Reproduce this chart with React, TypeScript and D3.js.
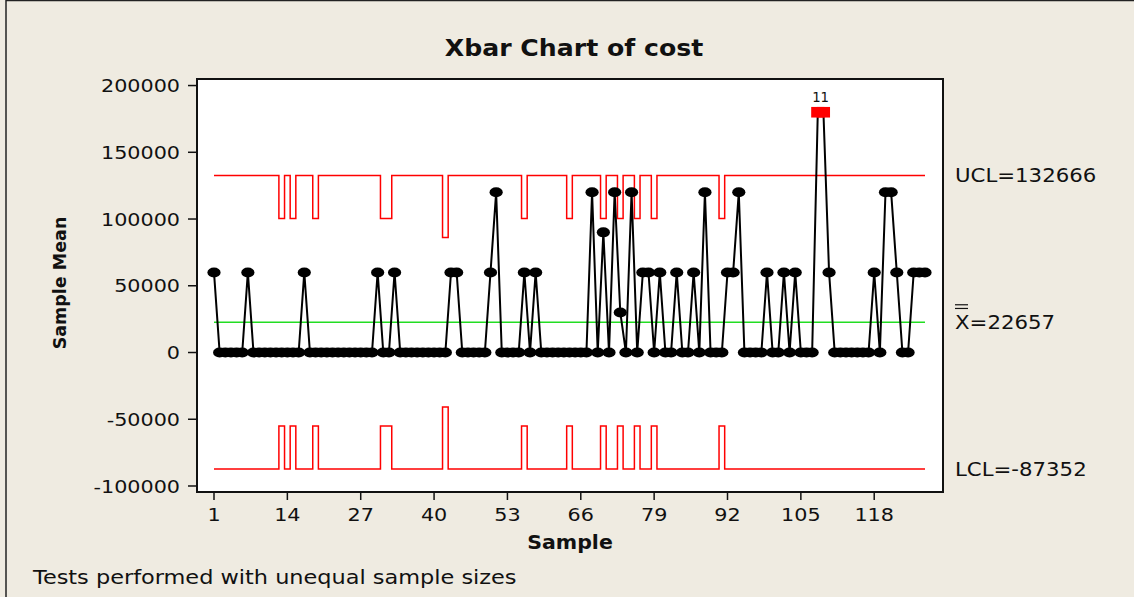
import React from "react";
import * as d3 from "d3";

// ---- data ----
const sampleMeans: number[] = [
  60000, 0, 0, 0, 0, 0, 60000, 0, 0, 0,
  0, 0, 0, 0, 0, 0, 60000, 0, 0, 0,
  0, 0, 0, 0, 0, 0, 0, 0, 0, 60000,
  0, 0, 60000, 0, 0, 0, 0, 0, 0, 0,
  0, 0, 60000, 60000, 0, 0, 0, 0, 0, 60000,
  120000, 0, 0, 0, 0, 60000, 0, 60000, 0, 0,
  0, 0, 0, 0, 0, 0, 0, 120000, 0, 90000,
  0, 120000, 30000, 0, 120000, 0, 60000, 60000, 0, 60000,
  0, 0, 60000, 0, 0, 60000, 0, 120000, 0, 0,
  0, 60000, 60000, 120000, 0, 0, 0, 0, 60000, 0,
  0, 60000, 0, 60000, 0, 0, 0, 180000, 180000, 60000,
  0, 0, 0, 0, 0, 0, 0, 60000, 0, 120000,
  120000, 60000, 0, 0, 60000, 60000, 60000,
];
const samplesOfSize2: number[] = [13, 15, 19, 31, 32, 56, 64, 70, 73, 76, 79, 91];
const samplesOfSize3: number[] = [42];
const centerLine = 22657;
const ucl1 = 132666; // limit for subgroup size 1
const lcl1 = -87352;
const xTicks: number[] = [1, 14, 27, 40, 53, 66, 79, 92, 105, 118];
const yTicks: number[] = [-100000, -50000, 0, 50000, 100000, 150000, 200000];

const W = 1134;
const H = 597;
const plot = { left: 197, right: 943, top: 79, bottom: 492 };
const FONT = "'DejaVu Sans', Verdana, sans-serif";
const SX = 1.12;

function T(props: {
  x: number; y: number; anchor?: string; size: number; weight?: string | number;
  sx?: number; children: React.ReactNode; fill?: string;
}) {
  const { x, y, anchor = "start", size, weight = "normal", sx = SX, children, fill = "#111" } = props;
  return (
    <g transform={`translate(${x},${y}) scale(${sx},1)`}>
      <text textAnchor={anchor as any} fontSize={size} fontWeight={weight as any}
        fontFamily={FONT} fill={fill}>{children}</text>
    </g>
  );
}

export default function App() {
  const N = sampleMeans.length;
  const x = d3.scaleLinear().domain([1, 127]).range([214, 925]);
  const y = d3.scaleLinear().domain([-104500, 204900]).range([plot.bottom, plot.top]);

  const sizes = sampleMeans.map((_, i) => {
    const s = i + 1;
    if (samplesOfSize3.includes(s)) return 3;
    if (samplesOfSize2.includes(s)) return 2;
    return 1;
  });
  const uclArr = sizes.map((n) => centerLine + (ucl1 - centerLine) / Math.sqrt(n));
  const lclArr = sizes.map((n) => centerLine - (centerLine - lcl1) / Math.sqrt(n));

  const stepPts = (lim: number[]) => {
    const pts: [number, number][] = [];
    lim.forEach((v, i) => {
      const s = i + 1;
      pts.push([Math.max(1, s - 0.5), v]);
      pts.push([Math.min(N, s + 0.5), v]);
    });
    return pts;
  };
  const lineGen = d3.line<[number, number]>().x((d) => x(d[0])).y((d) => y(d[1]));
  const uclPath = lineGen(stepPts(uclArr)) || "";
  const lclPath = lineGen(stepPts(lclArr)) || "";
  const dataPath =
    lineGen(sampleMeans.map((v, i) => [i + 1, v] as [number, number])) || "";

  const pts = sampleMeans.map((v, i) => ({
    s: i + 1, v, out: v > uclArr[i] || v < lclArr[i],
  }));

  // group consecutive out-of-control points for the test labels
  const groups: { s: number[]; v: number }[] = [];
  pts.forEach((p) => {
    if (!p.out) return;
    const g = groups[groups.length - 1];
    if (g && g.s[g.s.length - 1] === p.s - 1) {
      g.s.push(p.s);
      g.v = Math.max(g.v, p.v);
    } else groups.push({ s: [p.s], v: p.v });
  });

  return (
    <svg width={W} height={H} style={{ position: "absolute", left: 0, top: 0 }}>
      <rect x={0} y={0} width={W} height={H} fill="#EFEBE1" />
      <line x1={6} y1={0.5} x2={1134} y2={0.5} stroke="#222" strokeWidth={1.5} />
      <line x1={6} y1={0} x2={6} y2={H} stroke="#222" strokeWidth={1.5} />

      <T x={574} y={56} anchor="middle" size={22.5} weight="bold">Xbar Chart of cost</T>

      <rect x={plot.left} y={plot.top} width={plot.right - plot.left}
        height={plot.bottom - plot.top} fill="#fff" stroke="#111" strokeWidth={2} />

      {/* y axis */}
      {yTicks.map((t) => (
        <g key={t}>
          <line x1={plot.left - 9} x2={plot.left} y1={y(t)} y2={y(t)} stroke="#111" strokeWidth={1.5} />
          <T x={180} y={y(t) + 6.7} anchor="end" size={18.5}>{t < 0 ? "-" + Math.abs(t) : String(t)}</T>
        </g>
      ))}
      {/* x axis */}
      {xTicks.map((t) => (
        <g key={t}>
          <line x1={x(t)} x2={x(t)} y1={plot.bottom} y2={plot.bottom + 8} stroke="#111" strokeWidth={1.5} />
          <T x={x(t)} y={521} anchor="middle" size={18.5}>{String(t)}</T>
        </g>
      ))}
      <T x={570} y={549} anchor="middle" size={19} weight="bold" sx={1.08}>Sample</T>
      <g transform={`translate(66,${283}) rotate(-90)`}>
        <text textAnchor="middle" fontSize={17.5} fontWeight="bold" fontFamily={FONT} fill="#111">Sample Mean</text>
      </g>

      {/* control limits */}
      <path d={uclPath} fill="none" stroke="#FF0000" strokeWidth={1.5} />
      <path d={lclPath} fill="none" stroke="#FF0000" strokeWidth={1.5} />
      <line x1={x(1)} x2={x(N)} y1={y(centerLine)} y2={y(centerLine)} stroke="#22DD22" strokeWidth={1.5} />

      {/* data */}
      <path d={dataPath} fill="none" stroke="#000" strokeWidth={2} />
      {pts.map((p) =>
        p.out ? (
          <rect key={p.s} x={x(p.s) - 6.6} y={y(p.v) - 5.3} width={13.2} height={10.6} fill="#FF0000" />
        ) : (
          <ellipse key={p.s} cx={x(p.s)} cy={y(p.v)} rx={6.6} ry={5} fill="#000" />
        )
      )}
      {groups.map((g) => (
        <T key={g.s[0]} x={x(d3.mean(g.s) as number)} y={y(g.v) - 10} anchor="middle" size={14} sx={0.95}>
          {g.s.map(() => "1").join("")}
        </T>
      ))}

      {/* right labels */}
      <T x={955} y={y(ucl1) + 7} size={19}>{"UCL=" + ucl1}</T>
      <T x={955} y={y(centerLine) + 7} size={19}>{"X=" + centerLine}</T>
      <line x1={955} x2={968} y1={y(centerLine) - 17.5} y2={y(centerLine) - 17.5} stroke="#111" strokeWidth={1.2} />
      <line x1={955} x2={968} y1={y(centerLine) - 13.8} y2={y(centerLine) - 13.8} stroke="#111" strokeWidth={1.2} />
      <T x={955} y={y(lcl1) + 7} size={19}>{"LCL=" + lcl1}</T>

      <T x={33} y={584} size={19} sx={1.18}>Tests performed with unequal sample sizes</T>
    </svg>
  );
}
